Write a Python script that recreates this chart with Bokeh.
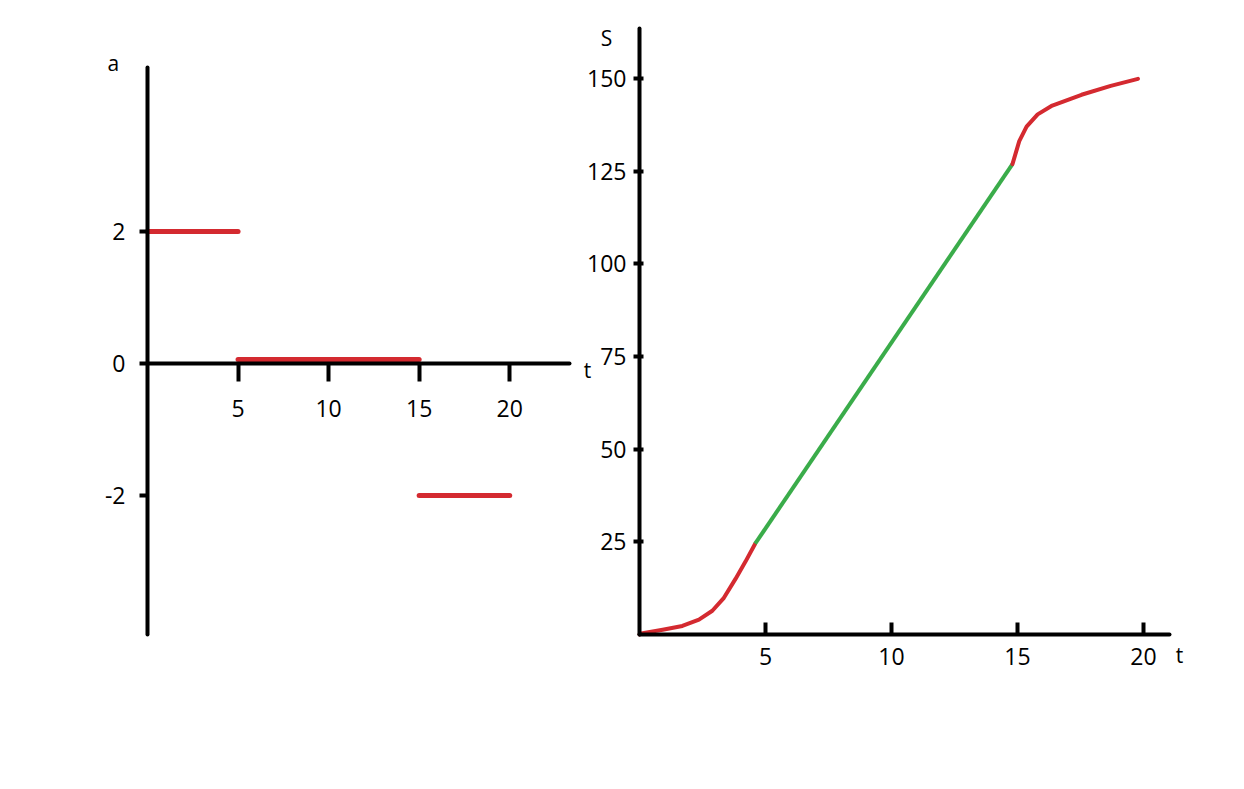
from bokeh.plotting import figure
from bokeh.models import FixedTicker, Label, Range1d, LinearAxis
from bokeh.embed import file_html
from bokeh.resources import INLINE

# ---- data: acceleration chart ----
a_t_start = [0, 5, 15]
a_t_end = [5, 15, 20]
a_values = [2, 0.06, -2]
a_xticks = [5, 10, 15, 20]
a_yticks = [-2, 0, 2]

# ---- data: distance chart ----
s_t_red1 = [0, 0.07, 0.92, 1.7, 2.36, 2.89, 3.35, 3.81, 4.2, 4.59]
s_val_red1 = [0, 0.3, 1.3, 2.3, 4.0, 6.4, 9.9, 15.0, 19.6, 24.5]
s_t_green = [4.59, 14.80]
s_val_green = [24.5, 126.9]
s_t_red2 = [14.80, 15.07, 15.36, 15.80, 16.38, 17.54, 18.70, 19.78]
s_val_red2 = [126.9, 133.1, 137.0, 140.3, 142.7, 145.6, 148.0, 149.9]
s_xticks = [5, 10, 15, 20]
s_yticks = [25, 50, 75, 100, 125, 150]

RED = "#d42a30"
GREEN = "#3aac4a"
FONT = "Open Sans"
FS = "23px"
NAME_FS = "21px"

W, H = 1228, 720

p = figure(frame_width=W, frame_height=H, output_backend="svg", toolbar_location=None,
           x_axis_location=None, y_axis_location=None,
           x_range=Range1d(-8.117, 59.69), y_range=Range1d(-5.409, 5.5),
           min_border_left=0, min_border_right=0, min_border_top=0, min_border_bottom=0)
p.extra_x_ranges = {"xr": Range1d(-25.357, 23.373)}
p.extra_y_ranges = {"yr": Range1d(-23.2, 171.03)}
p.outline_line_color = None
p.grid.visible = False
p.background_fill_color = "white"
p.border_fill_color = "white"


def make_axis(tick_in, tick_out, standoff, **kw):
    ax = LinearAxis(**kw)
    ax.axis_line_width = 4
    ax.axis_line_color = "black"
    ax.axis_line_cap = "round"
    ax.major_tick_line_width = 4
    ax.major_tick_line_color = "black"
    ax.major_tick_in = tick_in
    ax.major_tick_out = tick_out
    ax.minor_tick_line_color = None
    ax.major_label_text_font = FONT
    ax.major_label_text_font_size = FS
    ax.major_label_text_color = "black"
    ax.major_label_standoff = standoff
    return ax


# left chart axes
ax_lx = make_axis(0, 18, 18, fixed_location=0, bounds=(0, 23.3),
                  ticker=FixedTicker(ticks=a_xticks))
ax_ly = make_axis(0, 8, 14, fixed_location=0, bounds=(-4.106, 4.485),
                  ticker=FixedTicker(ticks=a_yticks),
                  major_label_overrides={-2: "-2", 0: "0", 2: "2"})
p.add_layout(ax_lx, "below")
p.add_layout(ax_ly, "left")

# right chart axes
ax_rx = make_axis(12, 0, 14, fixed_location=0, bounds=(0, 21.03),
                  ticker=FixedTicker(ticks=s_xticks),
                  x_range_name="xr", y_range_name="yr")
ax_ry = make_axis(4, 6, 7, fixed_location=0, bounds=(0, 163.5),
                  ticker=FixedTicker(ticks=s_yticks),
                  x_range_name="xr", y_range_name="yr")
p.add_layout(ax_rx, "below")
p.add_layout(ax_ry, "left")

# acceleration segments
p.segment(x0=a_t_start, y0=a_values, x1=a_t_end, y1=a_values,
          line_color=RED, line_width=5, line_cap="round")

# distance curve
p.line(s_t_red1, s_val_red1, line_color=RED, line_width=4, line_cap="round",
       line_join="round", x_range_name="xr", y_range_name="yr")
p.line(s_t_green, s_val_green, line_color=GREEN, line_width=4, line_cap="butt",
       x_range_name="xr", y_range_name="yr")
p.line(s_t_red2, s_val_red2, line_color=RED, line_width=4, line_cap="round",
       line_join="round", x_range_name="xr", y_range_name="yr")

# axis names
for x, y, txt, xr, yr in [(-1.88, 4.56, "a", "default", "default"),
                          (24.3, -0.106, "t", "default", "default"),
                          (-1.31, 161.0, "S", "xr", "yr"),
                          (21.43, -5.66, "t", "xr", "yr")]:
    p.add_layout(Label(x=x, y=y, text=txt, text_font=FONT, text_font_size=NAME_FS,
                       text_color="black", text_align="center", text_baseline="middle",
                       x_range_name=xr, y_range_name=yr))

open("out.html", "w").write(file_html(p, INLINE))
